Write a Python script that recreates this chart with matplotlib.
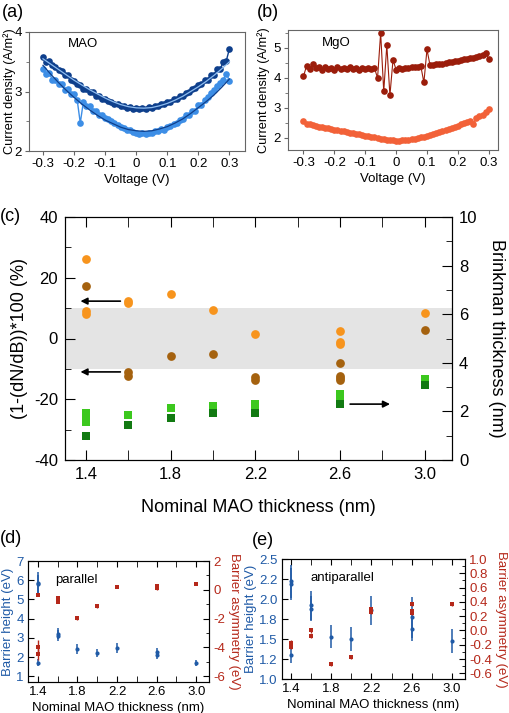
import numpy as np
import matplotlib.pyplot as plt
from matplotlib.ticker import MultipleLocator, FixedLocator

plt.rcParams['font.family'] = ['Liberation Sans', 'DejaVu Sans']
plt.rcParams['axes.unicode_minus'] = False

# ---------------- data ----------------
# (a) MAO, current density vs voltage, 0.01 V steps
volt = np.round(np.arange(-30, 31) * 0.01, 2)
mao_dark = [3.58, 3.50, 3.52, 3.44, 3.42, 3.36, 3.35, 3.27, 3.27, 3.19,
            3.18, 3.12, 3.11, 3.05, 3.04, 2.99, 2.99, 2.93, 2.93, 2.88,
            2.88, 2.84, 2.83, 2.79, 2.79, 2.76, 2.76, 2.73, 2.74, 2.70,
            2.72, 2.70, 2.73, 2.71, 2.74, 2.73, 2.76, 2.76, 2.79, 2.79,
            2.83, 2.83, 2.87, 2.87, 2.92, 2.93, 2.98, 2.99, 3.04, 3.06,
            3.11, 3.12, 3.20, 3.20, 3.28, 3.28, 3.38, 3.37, 3.50, 3.52, 3.72]
mao_light = [3.38, 3.30, 3.31, 3.20, 3.20, 3.13, 3.12, 3.03, 3.04, 2.95,
             2.95, 2.86, 2.47, 2.83, 2.76, 2.75, 2.68, 2.68, 2.61, 2.61,
             2.56, 2.54, 2.50, 2.47, 2.44, 2.41, 2.39, 2.36, 2.35, 2.32,
             2.31, 2.29, 2.30, 2.29, 2.31, 2.31, 2.34, 2.33, 2.37, 2.36,
             2.40, 2.42, 2.45, 2.47, 2.52, 2.53, 2.60, 2.60, 2.68, 2.67,
             2.77, 2.78, 2.86, 2.90, 2.98, 3.02, 3.10, 3.14, 3.20, 3.30, 3.18]
fit_volt = np.round(np.arange(-12, 13) * 0.025, 3)
mao_dark_fit = [3.55, 3.46, 3.37, 3.28, 3.19, 3.11, 3.03, 2.96, 2.89, 2.83,
                2.78, 2.745, 2.725, 2.72, 2.73, 2.76, 2.80, 2.855, 2.92, 3.00,
                3.08, 3.17, 3.27, 3.38, 3.50]
mao_light_fit = [3.44, 3.29, 3.15, 3.02, 2.90, 2.79, 2.69, 2.60, 2.52, 2.46,
                 2.40, 2.36, 2.34, 2.33, 2.34, 2.37, 2.41, 2.47, 2.54, 2.63,
                 2.73, 2.83, 2.94, 3.07, 3.21]

# (b) MgO
mgo_dark = [4.05, 4.40, 4.30, 4.45, 4.32, 4.38, 4.28, 4.35, 4.30, 4.33,
            4.28, 4.36, 4.30, 4.33, 4.29, 4.35, 4.31, 4.33, 4.28, 4.34,
            4.30, 4.32, 4.29, 4.33, 4.00, 5.50, 3.55, 5.10, 3.42, 4.60,
            4.28, 4.33, 4.31, 4.34, 4.33, 4.35, 4.37, 4.36, 4.40, 3.85,
            4.95, 4.42, 4.44, 4.45, 4.47, 4.48, 4.50, 4.52, 4.53, 4.55,
            4.57, 4.60, 4.62, 4.63, 4.66, 4.68, 4.70, 4.73, 4.78, 4.84, 4.62]
mgo_light = [2.55, 2.48, 2.45, 2.42, 2.40, 2.38, 2.36, 2.34, 2.32, 2.30,
             2.28, 2.26, 2.24, 2.22, 2.20, 2.18, 2.16, 2.14, 2.12, 2.10,
             2.08, 2.06, 2.04, 2.02, 2.00, 1.98, 1.96, 1.94, 1.93, 1.92,
             1.91, 1.91, 1.92, 1.93, 1.94, 1.96, 1.98, 2.00, 2.02, 2.05,
             2.08, 2.11, 2.14, 2.17, 2.20, 2.23, 2.26, 2.29, 2.33, 2.37,
             2.41, 2.45, 2.49, 2.53, 2.57, 2.45, 2.66, 2.72, 2.78, 2.86, 2.95]

# (c) asymmetry (%) and Brinkman thickness (nm)
orange_x = [1.4, 1.4, 1.4, 1.6, 1.6, 1.8, 2.0, 2.2, 2.6, 2.6, 2.6, 3.0]
orange_y = [26.2, 9.0, 8.0, 12.5, 11.6, 14.7, 9.4, 1.4, 2.4, -1.0, -1.9, 8.3]
brown_x = [1.4, 1.6, 1.6, 1.8, 2.0, 2.2, 2.2, 2.6, 2.6, 2.6, 2.6, 3.0]
brown_y = [17.2, -11.0, -12.2, -5.6, -5.0, -12.8, -13.5, -8.0, -12.2, -13.1, -13.8, 2.7]
green_light_x = [1.4, 1.4, 1.4, 1.6, 1.8, 2.0, 2.0, 2.2, 2.2, 2.6, 2.6, 3.0, 3.0]
green_light_y = [1.95, 1.75, 1.55, 1.85, 2.13, 2.22, 2.15, 2.30, 2.22, 2.72, 2.58, 3.32, 3.20]
green_dark_x = [1.4, 1.6, 1.8, 2.0, 2.2, 2.6, 3.0]
green_dark_y = [1.0, 1.44, 1.72, 1.92, 1.95, 2.29, 3.07]

# (d) parallel
d_blue_x = [1.4, 1.4, 1.4, 1.6, 1.6, 1.8, 2.0, 2.2, 2.6, 2.6, 3.0]
d_blue_y = [5.87, 5.78, 1.70, 3.22, 3.12, 2.42, 2.20, 2.47, 2.25, 2.10, 1.68]
d_blue_err = [0.55, 0.50, 0.18, 0.30, 0.28, 0.25, 0.22, 0.25, 0.22, 0.20, 0.15]
d_red_x = [1.4, 1.4, 1.4, 1.6, 1.6, 1.8, 2.0, 2.2, 2.6, 2.6, 3.0]
d_red_y = [-0.35, -3.95, -4.45, -0.60, -0.85, -1.97, -1.15, 0.22, 0.28, 0.12, 0.42]
d_red_err = [0.10, 0.45, 0.40, 0.10, 0.10, 0.15, 0.08, 0.08, 0.10, 0.10, 0.08]

# (e) antiparallel
e_blue_x = [1.4, 1.4, 1.4, 1.6, 1.6, 1.8, 2.0, 2.2, 2.6, 2.6, 3.0]
e_blue_y = [2.22, 2.19, 1.30, 1.92, 1.88, 1.53, 1.50, 1.86, 1.77, 1.63, 1.47]
e_blue_err = [0.21, 0.20, 0.10, 0.18, 0.16, 0.14, 0.15, 0.18, 0.26, 0.15, 0.15]
e_red_x = [1.4, 1.4, 1.4, 1.6, 1.6, 1.8, 2.0, 2.2, 2.2, 2.6, 2.6, 2.6, 3.0]
e_red_y = [-0.17, -0.20, -0.23, 0.00, -0.08, -0.47, -0.37, 0.30, 0.26, 0.37, 0.27, 0.24, 0.37]
e_red_err = [0.03] * 13

# ---------------- layout ----------------
W, H = 509, 713
fig = plt.figure(figsize=(W / 100, H / 100), dpi=100)


def rect(l, t, r, b):
    return [l / W, 1 - b / H, (r - l) / W, (b - t) / H]


BLUE = '#1f5aa6'
RED = '#b5281a'
FS_SMALL = 9.5


def iv_style(ax, label_x):
    for s in ax.spines.values():
        s.set_color('#666666')
        s.set_linewidth(0.8)
    ax.tick_params(which='both', direction='out', labelsize=FS_SMALL, color='#666666', pad=2)
    ax.tick_params(which='major', length=3)
    ax.tick_params(which='minor', length=2)
    ax.set_xticks([-0.3, -0.2, -0.1, 0, 0.1, 0.2, 0.3])
    ax.set_xticklabels(['-0.3', '-0.2', '-0.1', '0', '0.1', '0.2', '0.3'])
    ax.set_xlabel('Voltage (V)', fontsize=FS_SMALL, labelpad=3)
    ax.set_ylabel('Current density (A/m²)', fontsize=9.2)
    ax.yaxis.set_label_coords(label_x, 0.5)


# (a)
ax_a = fig.add_axes(rect(29, 32, 245, 151))
ax_a.plot(volt, mao_light, '-o', color='#3d8ee6', ms=4.8, lw=1.0, mew=0)
ax_a.plot(volt, mao_dark, '-o', color='#0e3f8c', ms=4.8, lw=1.0, mew=0)
ax_a.plot(fit_volt, mao_light_fit, color='#0e3f8c', lw=0.9)
ax_a.plot(fit_volt, mao_dark_fit, color='#8fbdf0', lw=0.9)
ax_a.set_xlim(-0.345, 0.35)
ax_a.set_ylim(2, 4)
ax_a.yaxis.set_major_locator(MultipleLocator(1))
ax_a.yaxis.set_minor_locator(MultipleLocator(0.5))
iv_style(ax_a, -0.062)
ax_a.text(0.18, 0.87, 'MAO', transform=ax_a.transAxes, fontsize=FS_SMALL)

# (b)
ax_b = fig.add_axes(rect(288, 30, 498, 150))
ax_b.plot(volt, mgo_light, '-o', color='#f26138', ms=4.8, lw=1.0, mew=0)
ax_b.plot(volt, mgo_dark, '-o', color='#9b1d0b', ms=4.8, lw=0.8, mew=0)
ax_b.set_xlim(-0.35, 0.33)
ax_b.set_ylim(1.6, 5.6)
ax_b.yaxis.set_major_locator(MultipleLocator(1))
ax_b.yaxis.set_minor_locator(MultipleLocator(0.5))
iv_style(ax_b, -0.085)
ax_b.text(0.16, 0.87, 'MgO', transform=ax_b.transAxes, fontsize=FS_SMALL)

# (c)
ax_c = fig.add_axes(rect(65, 217, 452, 460))
ax_c.axhspan(-10, 10, color='#e4e4e4', lw=0, zorder=0)
ax_c.plot(orange_x, orange_y, 'o', color='#f7941d', ms=6.3, mew=0, zorder=3)
ax_c.plot(brown_x, brown_y, 'o', color='#a5620f', ms=6.3, mew=0, zorder=3)
ax_c.set_xlim(1.3, 3.13)
ax_c.set_ylim(-40, 40)
ax_c.xaxis.set_major_locator(FixedLocator([1.4, 1.8, 2.2, 2.6, 3.0]))
ax_c.xaxis.set_minor_locator(FixedLocator([1.6, 2.0, 2.4, 2.8]))
ax_c.yaxis.set_major_locator(MultipleLocator(20))
ax_c.yaxis.set_minor_locator(MultipleLocator(10))
ax_c.tick_params(which='both', direction='in', top=True, labelsize=12, pad=5)
ax_c.tick_params(axis='x', which='both', length=7)
ax_c.tick_params(axis='y', which='major', length=7)
ax_c.tick_params(axis='y', which='minor', length=4)
ax_c.set_xlabel('Nominal MAO thickness (nm)', fontsize=13, labelpad=12)
ax_c.set_ylabel('(1-(dN/dB))*100 (%)', fontsize=13, labelpad=4)
arrow = dict(arrowstyle='-|>', color='k', lw=1.2, mutation_scale=10)
ax_c.annotate('', xy=(1.36, 12.3), xytext=(1.575, 12.3), arrowprops=arrow)
ax_c.annotate('', xy=(1.36, -11.0), xytext=(1.575, -11.0), arrowprops=arrow)

ax_c2 = ax_c.twinx()
ax_c2.plot(green_light_x, green_light_y, 's', color='#3cc81e', ms=5.8, mew=0)
ax_c2.plot(green_dark_x, green_dark_y, 's', color='#127a12', ms=5.8, mew=0)
ax_c2.set_ylim(0, 10)
ax_c2.yaxis.set_major_locator(MultipleLocator(2))
ax_c2.yaxis.set_minor_locator(MultipleLocator(1))
ax_c2.tick_params(which='both', direction='in', labelsize=12, pad=5)
ax_c2.tick_params(which='major', length=7)
ax_c2.tick_params(which='minor', length=4)
ax_c2.set_ylabel('Brinkman thickness (nm)', fontsize=13, rotation=270, labelpad=20)
ax_c2.annotate('', xy=(2.85, 2.3), xytext=(2.635, 2.3), arrowprops=arrow)


def barrier_axes(ax, ax2, xlim):
    ax.set_xlim(*xlim)
    ax.xaxis.set_major_locator(FixedLocator([1.4, 1.8, 2.2, 2.6, 3.0]))
    ax.xaxis.set_minor_locator(FixedLocator([1.6, 2.0, 2.4, 2.8]))
    ax.tick_params(which='both', direction='in', top=True, labelsize=FS_SMALL, pad=3)
    ax.tick_params(axis='x', which='both', length=4)
    ax.tick_params(axis='y', which='major', length=4, labelcolor=BLUE)
    ax.tick_params(axis='y', which='minor', length=2)
    ax2.tick_params(which='both', direction='in', labelsize=FS_SMALL, labelcolor=RED, pad=3)
    ax2.tick_params(which='major', length=4)
    ax2.tick_params(which='minor', length=2)
    ax.set_xlabel('Nominal MAO thickness (nm)', fontsize=FS_SMALL, labelpad=3)
    ax.set_ylabel('Barrier height (eV)', fontsize=FS_SMALL, color=BLUE, labelpad=2)
    ax2.set_ylabel('Barrier asymmetry (eV)', fontsize=FS_SMALL, color=RED, rotation=270, labelpad=11)
    for s in ax.spines.values():
        s.set_color('#444444')
        s.set_linewidth(0.8)


# (d)
ax_d = fig.add_axes(rect(28, 561, 209, 682))
ax_d2 = ax_d.twinx()
ax_d.errorbar(d_blue_x, d_blue_y, yerr=d_blue_err, fmt='o', color=BLUE, ms=3, mew=0,
              elinewidth=1.1, capsize=2, capthick=1.0)
ax_d2.errorbar(d_red_x, d_red_y, yerr=d_red_err, fmt='s', color=RED, ms=3.4, mew=0,
               elinewidth=1.0, capsize=1.5, capthick=0.8)
ax_d.set_ylim(0.7, 7)
ax_d.yaxis.set_major_locator(MultipleLocator(1))
ax_d2.set_ylim(-6.4, 2)
ax_d2.yaxis.set_major_locator(MultipleLocator(2))
ax_d2.yaxis.set_minor_locator(MultipleLocator(1))
barrier_axes(ax_d, ax_d2, (1.3, 3.13))
ax_d.text(0.15, 0.82, 'parallel', transform=ax_d.transAxes, fontsize=FS_SMALL)

# (e)
ax_e = fig.add_axes(rect(282, 559, 465, 679))
ax_e2 = ax_e.twinx()
ax_e.errorbar(e_blue_x, e_blue_y, yerr=e_blue_err, fmt='o', color=BLUE, ms=3, mew=0,
              elinewidth=1.1, capsize=2, capthick=1.0)
ax_e2.errorbar(e_red_x, e_red_y, yerr=e_red_err, fmt='s', color=RED, ms=3.4, mew=0,
               elinewidth=1.0, capsize=1.5, capthick=0.8)
ax_e.set_ylim(1.0, 2.5)
e_ticks = [1.0, 1.25, 1.5, 1.75, 2.0, 2.25, 2.5]
ax_e.set_yticks(e_ticks)
ax_e.set_yticklabels(['%.1f' % t for t in e_ticks])
ax_e2.set_ylim(-0.68, 1.0)
ax_e2.set_yticks([-0.6, -0.4, -0.2, 0.0, 0.2, 0.4, 0.6, 0.8, 1.0])
ax_e2.set_yticklabels(['-0.6', '-0.4', '-0.2', '0.0', '0.2', '0.4', '0.6', '0.8', '1.0'])
ax_e2.yaxis.set_minor_locator(MultipleLocator(0.1))
barrier_axes(ax_e, ax_e2, (1.31, 3.13))
ax_e.text(0.155, 0.82, 'antiparallel', transform=ax_e.transAxes, fontsize=FS_SMALL)

# panel letters
for lbl, x, y in [('(a)', 2, 4), ('(b)', 257, 4), ('(c)', 0, 208), ('(d)', 0, 530), ('(e)', 252, 532)]:
    fig.text(x / W, 1 - y / H, lbl, fontsize=13, va='top', ha='left')

fig.savefig('out.png', dpi=100)
